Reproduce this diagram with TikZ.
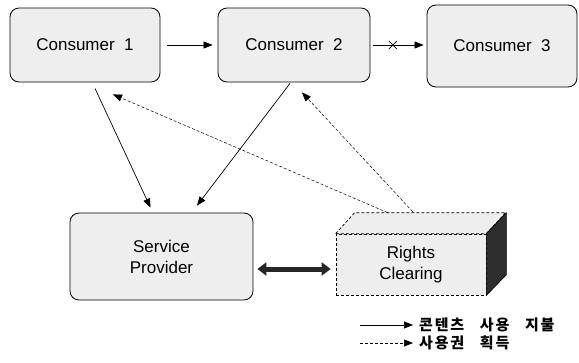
\documentclass[tikz,border=0pt]{standalone}
\usepackage{fontspec}
\setmainfont{Liberation Sans}[WordSpace=2]
\newfontfamily\kor{Noto Sans CJK KR}[LetterSpace=12, WordSpace=3]
\usetikzlibrary{arrows.meta,calc}
\begin{document}
\begin{tikzpicture}[x=1pt,y=-1pt,
  box/.style={draw=black, line width=0.8pt, rounded corners=9pt, fill=gray!13,
    font=\fontsize{17}{21}\selectfont, align=center, inner sep=0pt},
  cube/.style={draw=black, line width=0.7pt, densely dashed, fill=gray!13,
    font=\fontsize{17}{21}\selectfont, align=center, inner sep=0pt},
  arr/.style={-{Triangle[length=9pt,width=7pt]}, line width=0.7pt},
  dotarr/.style={-{Triangle[length=9pt,width=7pt]}, line width=0.5pt, densely dashed},
  dbl/.style={{Triangle[length=9pt,width=13pt]}-{Triangle[length=9pt,width=13pt]}, line width=5pt, black!85},
  legtext/.style={anchor=west, inner sep=0pt, font=\kor\bfseries\fontsize{15}{17}\selectfont}]
\useasboundingbox (0,0) rectangle (579,362);

\node[box, minimum width=150pt, minimum height=74pt] (c1) at (85,45) {Consumer 1};
\node[box, minimum width=152pt, minimum height=74pt] (c2) at (294,45) {Consumer 2};
\node[box, minimum width=150pt, minimum height=82pt] (c3) at (502,46) {Consumer 3};
\node[box, minimum width=183pt, minimum height=87pt] (sp) at (161.5,256.5) {Service\\Provider};

\node[cube, minimum width=150pt, minimum height=61pt] (rc) at (411,264.5) {};
\draw[line width=0.7pt, densely dashed, fill=gray!13]
  (rc.north west) -- ++(19,-21) -- ++(151,0) -- (rc.north east) -- cycle;
\draw[line width=0.7pt, fill=black!82]
  (rc.north east) -- ++(20,-21) -- ++(0,62) -- (rc.south east) -- cycle;
\node[font=\fontsize{17}{21}\selectfont, align=center] (rct) at (rc.center) {Rights\\Clearing};

\coordinate (rt1) at ($(rc.north west)+(52,-21)$);
\coordinate (rt2) at ($(rc.north west)+(77,-22)$);

\draw[arr, shorten <=7pt, shorten >=5pt] (c1.east) -- (c2.west);
\draw[arr, shorten <=3pt, shorten >=3pt] (c2.east) -- (c2.east -| c3.west)
  coordinate[pos=0.4] (cx);
\draw[line width=0.6pt] ($(cx)+(-4,-4)$) -- ($(cx)+(4,4)$)
  ($(cx)+(-4,4)$) -- ($(cx)+(4,-4)$);

\draw[arr] ($(c1.south)+(10,6)$) -- ($(sp.north)+(-11,-5)$);
\draw[arr] ($(c2.south)+(-4,1)$) -- ($(sp.north)+(35.5,-7)$);
\draw[dotarr] (rt1) -- ($(c1.south)+(28,12)$);
\draw[dotarr] (rt2) -- ($(c2.south)+(8,10)$);

\draw[dbl] ($(sp.east)+(4,12.5)$) -- ($(rc.west)+(-5,4.5)$);

\coordinate (l1a) at (360,325);
\coordinate (l1b) at (413,325);
\coordinate (l2a) at (360,343);
\coordinate (l2b) at (413,343);
\draw[arr] (l1a) -- (l1b);
\draw[dotarr] (l2a) -- (l2b);
\node[legtext] (lt1) at ($(l1b)+(6,0)$) {콘텐츠 사용 지불};
\node[legtext] (lt2) at ($(l2b)+(6,0)$) {사용권 획득};
\end{tikzpicture}
\end{document}
